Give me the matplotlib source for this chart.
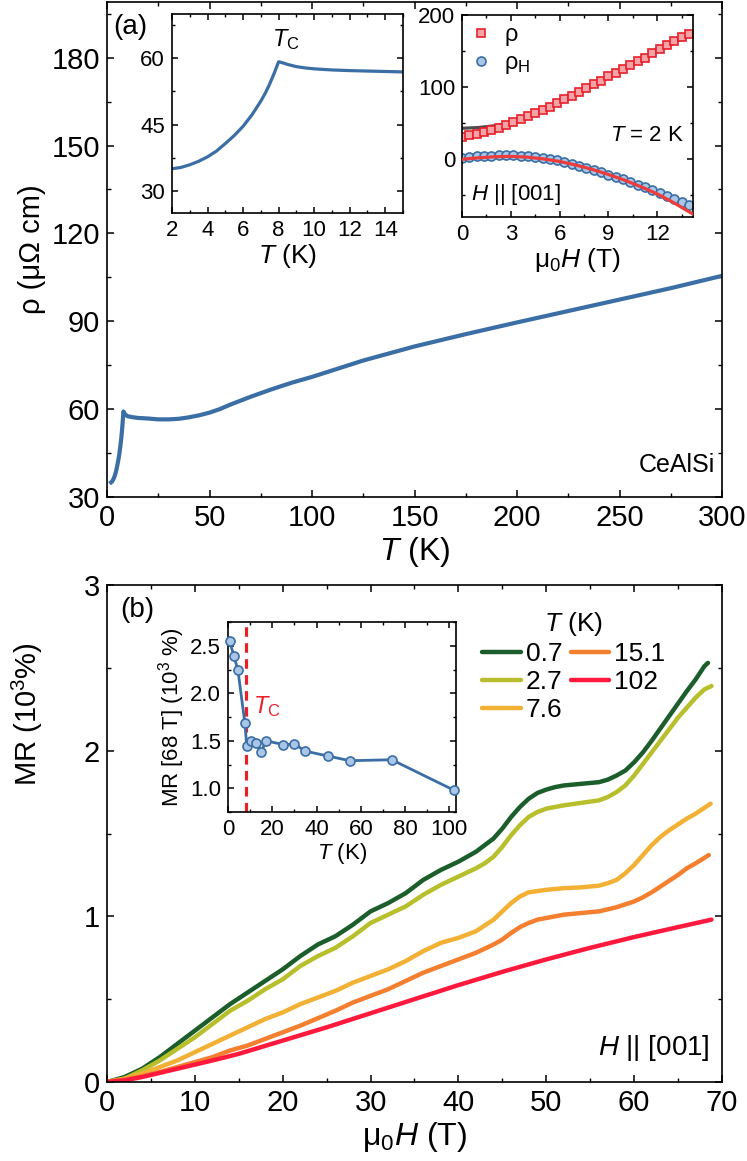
import numpy as np
import matplotlib
matplotlib.use('Agg')
import matplotlib.pyplot as plt
from matplotlib.ticker import MultipleLocator, FormatStrFormatter

plt.rcParams['font.family'] = ['Liberation Sans', 'DejaVu Sans']
plt.rcParams['mathtext.fontset'] = 'custom'
plt.rcParams['mathtext.rm'] = 'Liberation Sans'
plt.rcParams['mathtext.it'] = 'Liberation Sans:italic'
plt.rcParams['mathtext.bf'] = 'Liberation Sans:bold'
plt.rcParams['xtick.direction'] = 'in'
plt.rcParams['ytick.direction'] = 'in'
plt.rcParams['xtick.top'] = True
plt.rcParams['ytick.right'] = True
plt.rcParams['axes.linewidth'] = 1.2

# ---- panel (a): rho(T) ----
T_main = [2, 2.5, 3, 3.5, 4, 4.5, 5, 5.5, 6, 6.5, 7, 7.5, 7.75, 8, 8.5, 9, 10, 12, 15,
          20, 25, 30, 35, 40, 45, 50, 55, 60, 70, 80, 90, 100, 125, 150, 175, 200, 225,
          250, 275, 300]
rho_main = [35.0, 35.3, 35.9, 36.7, 37.7, 39.0, 40.7, 42.5, 44.6, 47.2, 50.3, 54.2, 56.6,
            59.2, 58.6, 58.1, 57.6, 57.3, 57.0, 56.8, 56.5, 56.5, 56.7, 57.2, 57.9, 58.8,
            60.0, 61.5, 64.2, 66.7, 69.0, 71.0, 76.6, 81.4, 85.6, 89.6, 93.5, 97.4,
            101.3, 105.5]

# inset: low-T zoom
T_low = [2, 2.5, 3, 3.5, 4, 4.5, 5, 5.5, 6, 6.5, 7, 7.25, 7.5, 7.75, 8, 8.2, 8.5, 9,
         9.5, 10, 11, 12, 13, 14, 15]
rho_low = [35.0, 35.3, 35.9, 36.7, 37.7, 39.0, 40.7, 42.5, 44.6, 47.2, 50.3, 52.1, 54.2,
           56.6, 59.2, 59.0, 58.6, 58.1, 57.8, 57.6, 57.35, 57.2, 57.1, 57.0, 56.9]

# inset: field dependence at 2 K
H_pts = [0.0, 0.45, 0.9, 1.35, 1.8, 2.25, 2.7, 3.15, 3.6, 4.05, 4.5, 4.95, 5.4, 5.85,
         6.3, 6.75, 7.2, 7.65, 8.1, 8.55, 9.0, 9.45, 9.9, 10.35, 10.8, 11.25, 11.7,
         12.15, 12.6, 13.05, 13.5, 13.95]
rho_pts = [31, 33, 35, 37.5, 40, 44, 48, 52, 56, 60, 64, 68.5, 73, 78, 83, 88, 93.5,
           98.5, 104, 109, 115, 120, 125, 130, 136, 141, 147, 153, 158, 164, 169, 174]
rhoH_pts = [2, 3, 4, 4.5, 5, 5.5, 5.5, 5.5, 5, 4.5, 3.5, 2, 0.5, -1.5, -4, -6.5, -9,
            -12, -15, -18, -21.5, -25, -28, -31, -35, -39, -43, -47, -51, -55, -59, -63]
H_fit = [0, 1, 2, 3, 4, 5, 6, 7, 8, 9, 10, 11, 12, 13, 14.2]
rho_fit = [43, 44, 46.5, 50.5, 58.5, 67.5, 78, 89, 101, 113, 125, 137, 149, 161, 175]
rhoH_fit = [0, 2, 3.5, 4, 3, 0.5, -3, -8, -14, -21, -29, -38, -48, -60, -76]

# ---- panel (b): MR(H) ----
H_07 = [0, 2, 4, 6, 8, 10, 12, 14, 16, 18, 20, 22, 24, 26, 28, 30, 32, 34, 36, 38, 40,
        42, 44, 45, 46, 47, 48, 49, 50, 51, 52, 54, 56, 57, 58, 59, 60, 61, 62, 63, 64,
        65, 66, 67, 68, 68.4]
MR_07 = [0, 0.03, 0.08, 0.15, 0.23, 0.31, 0.39, 0.47, 0.54, 0.61, 0.68, 0.76, 0.83,
         0.88, 0.95, 1.03, 1.08, 1.14, 1.22, 1.28, 1.33, 1.39, 1.47, 1.53, 1.60, 1.66,
         1.71, 1.745, 1.765, 1.78, 1.79, 1.80, 1.81, 1.825, 1.85, 1.88, 1.93, 1.99, 2.06,
         2.135, 2.21, 2.285, 2.36, 2.43, 2.51, 2.53]
H_27 = [0, 2, 4, 6, 8, 10, 12, 14, 16, 18, 20, 22, 24, 26, 28, 30, 32, 34, 36, 38, 40,
        42, 43, 44, 45, 46, 47, 48, 49, 50, 52, 54, 56, 57, 58, 59, 60, 61, 62, 63, 64,
        65, 66, 67, 68, 68.8]
MR_27 = [0, 0.02, 0.07, 0.13, 0.20, 0.27, 0.35, 0.43, 0.49, 0.56, 0.62, 0.70, 0.76,
         0.81, 0.88, 0.96, 1.01, 1.06, 1.13, 1.19, 1.24, 1.29, 1.32, 1.36, 1.42, 1.49,
         1.55, 1.60, 1.63, 1.65, 1.67, 1.685, 1.70, 1.72, 1.75, 1.79, 1.85, 1.92, 1.99,
         2.06, 2.13, 2.20, 2.26, 2.32, 2.37, 2.39]
H_76 = [0, 2, 4, 6, 8, 10, 12, 14, 16, 18, 20, 22, 24, 26, 28, 30, 32, 34, 36, 38, 40,
        42, 44, 45, 46, 47, 48, 50, 52, 54, 56, 57, 58, 59, 60, 61, 62, 63, 64, 65, 66,
        67, 68, 68.7]
MR_76 = [0, 0.02, 0.05, 0.09, 0.13, 0.18, 0.23, 0.28, 0.33, 0.38, 0.42, 0.47, 0.51,
         0.55, 0.60, 0.64, 0.68, 0.73, 0.79, 0.84, 0.87, 0.91, 0.98, 1.03, 1.08, 1.12,
         1.145, 1.16, 1.17, 1.175, 1.185, 1.20, 1.22, 1.26, 1.31, 1.37, 1.43, 1.48, 1.52,
         1.555, 1.59, 1.62, 1.655, 1.68]
H_151 = [0, 2, 4, 6, 8, 10, 12, 14, 16, 18, 20, 22, 24, 26, 28, 30, 32, 34, 36, 38, 40,
         42, 44, 45, 46, 47, 48, 49, 50, 52, 54, 56, 58, 60, 61, 62, 63, 64, 65, 66, 67,
         68.5]
MR_151 = [0, 0.015, 0.035, 0.06, 0.09, 0.12, 0.15, 0.19, 0.22, 0.26, 0.30, 0.34, 0.385,
          0.43, 0.48, 0.52, 0.56, 0.61, 0.66, 0.70, 0.74, 0.78, 0.83, 0.86, 0.90, 0.935,
          0.96, 0.98, 0.99, 1.01, 1.02, 1.03, 1.055, 1.09, 1.115, 1.145, 1.18, 1.215,
          1.25, 1.29, 1.32, 1.37]
H_102 = [0, 2, 4, 6, 8, 10, 12, 15, 20, 25, 30, 35, 40, 45, 50, 55, 60, 65, 68.8]
MR_102 = [0, 0.01, 0.03, 0.055, 0.08, 0.105, 0.13, 0.17, 0.25, 0.33, 0.415, 0.50, 0.585,
          0.665, 0.74, 0.81, 0.875, 0.935, 0.98]

curves = [(H_07, MR_07, '0.7', '#1b5e2b'),
          (H_27, MR_27, '2.7', '#b8bf2d'),
          (H_76, MR_76, '7.6', '#f2b134'),
          (H_151, MR_151, '15.1', '#f47f2f'),
          (H_102, MR_102, '102', '#ff1a3d')]

# inset: MR at 68 T vs T
T_mr = [0.7, 2.7, 4.5, 7.6, 8.5, 10.5, 12.5, 15.1, 17, 25, 30, 35, 45, 55, 74, 102]
MR_68 = [2.55, 2.39, 2.24, 1.69, 1.44, 1.50, 1.48, 1.38, 1.50, 1.46, 1.465, 1.39, 1.34,
         1.29, 1.30, 0.98]

blue = '#3a6ea5'
W, Hgt = 747, 1161
fig = plt.figure(figsize=(W / 100, Hgt / 100), dpi=100)

def box(x0, y0, x1, y1):
    return [x0 / W, 1 - y1 / Hgt, (x1 - x0) / W, (y1 - y0) / Hgt]

def style(ax, size, major=5, minor=3):
    ax.tick_params(which='major', length=major, width=1.1, labelsize=size, pad=5)
    ax.tick_params(which='minor', length=minor, width=1.0)

# main (a)
ax1 = fig.add_axes(box(107, 2, 722, 497))
ax1.plot(T_main, rho_main, color=blue, lw=3)
ax1.set_xlim(0, 300)
ax1.set_ylim(30, 199)
ax1.xaxis.set_major_locator(MultipleLocator(50))
ax1.xaxis.set_minor_locator(MultipleLocator(25))
ax1.yaxis.set_major_locator(MultipleLocator(30))
ax1.yaxis.set_minor_locator(MultipleLocator(15))
style(ax1, 21)
ax1.set_xlabel(r'$\mathit{T}$ (K)', fontsize=23, labelpad=2)
ax1.set_ylabel('ρ (μΩ cm)', fontsize=21, labelpad=4)
ax1.text(0.989, 0.065, 'CeAlSi', transform=ax1.transAxes, ha='right', va='center', fontsize=18)
ax1.text(0.01, 0.975, '(a)', transform=ax1.transAxes, ha='left', va='top', fontsize=20)

# inset rho(T) low T
ax2 = fig.add_axes(box(172, 14, 403, 213))
ax2.plot(T_low, rho_low, color=blue, lw=2.3)
ax2.set_xlim(2, 15)
ax2.set_ylim(25, 70)
ax2.xaxis.set_major_locator(MultipleLocator(2))
ax2.xaxis.set_minor_locator(MultipleLocator(1))
ax2.yaxis.set_major_locator(MultipleLocator(15))
ax2.yaxis.set_minor_locator(MultipleLocator(7.5))
style(ax2, 16, 4, 2.5)
ax2.set_xlabel(r'$\mathit{T}$ (K)', fontsize=19, labelpad=1)
ax2.text(8.4, 64.3, r'$\mathit{T}_\mathrm{C}$', ha='center', va='center', fontsize=17)

# inset rho(H)
ax3 = fig.add_axes(box(462, 15, 693, 217))
ax3.plot(H_fit, rho_fit, color='#4d4d4d', lw=2.3, zorder=1)
ax3.plot(H_pts, rho_pts, 's', ms=6, mec='#e8202a', mfc='#f5a3a6', mew=1.2,
         label=r'$\mathrm{\rho}$', zorder=2)
ax3.plot(H_pts, rhoH_pts, 'o', ms=6.5, mec='#3a6ea5', mfc='#a9c6e6', mew=1.2,
         label=r'$\mathrm{\rho_H}$', zorder=2)
ax3.plot(H_fit, rhoH_fit, color='#ee3b3b', lw=2.3, zorder=3)
ax3.set_xlim(0, 14.2)
ax3.set_ylim(-80, 200)
ax3.xaxis.set_major_locator(MultipleLocator(3))
ax3.xaxis.set_minor_locator(MultipleLocator(1.5))
ax3.yaxis.set_major_locator(MultipleLocator(100))
ax3.yaxis.set_minor_locator(MultipleLocator(50))
style(ax3, 16, 4, 2.5)
ax3.set_xlabel(r'$\mathrm{\mu_0}\mathit{H}$ (T)', fontsize=19, labelpad=1)
ax3.legend(loc='upper left', frameon=False, fontsize=17, handlelength=0.8,
           handletextpad=0.6, labelspacing=0.15, borderaxespad=0.2, borderpad=0.2)
ax3.text(0.96, 0.405, r'$\mathit{T}$ = 2 K', transform=ax3.transAxes, ha='right',
         va='center', fontsize=16)
ax3.text(0.04, 0.11, r'$\mathit{H}$ || [001]', transform=ax3.transAxes, ha='left',
         va='center', fontsize=16)

# main (b)
ax4 = fig.add_axes(box(107, 585, 722, 1082))
for hh, mm, lab, col in curves:
    ax4.plot(hh, mm, color=col, lw=3.2, label=lab, solid_capstyle='round',
             solid_joinstyle='round')
ax4.set_xlim(0, 70)
ax4.set_ylim(0, 3)
ax4.xaxis.set_major_locator(MultipleLocator(10))
ax4.xaxis.set_minor_locator(MultipleLocator(5))
ax4.yaxis.set_major_locator(MultipleLocator(1))
ax4.yaxis.set_minor_locator(MultipleLocator(0.5))
style(ax4, 21)
ax4.set_xlabel(r'$\mathrm{\mu_0}\mathit{H}$ (T)', fontsize=23, labelpad=2)
ax4.set_ylabel(r'MR (10$^3$%)', fontsize=21)
ax4.yaxis.set_label_coords(-0.1, 0.74)
leg = ax4.legend(ncol=2, loc='upper right', bbox_to_anchor=(0.925, 0.97), frameon=False,
                 fontsize=19, title=r'$\mathit{T}$ (K)', title_fontsize=19,
                 handlelength=1.45, handletextpad=0.2, columnspacing=0.3,
                 labelspacing=0.15, borderaxespad=0)
ax4.text(0.98, 0.068, r'$\mathit{H}$ || [001]', transform=ax4.transAxes, ha='right',
         va='center', fontsize=20)
ax4.text(0.022, 0.975, '(b)', transform=ax4.transAxes, ha='left', va='top', fontsize=20)

# inset MR(68 T) vs T
ax5 = fig.add_axes(box(228, 622, 456, 812))
ax5.plot(T_mr, MR_68, '-o', color=blue, lw=2, ms=6.5, mfc='#a9c6e6', mec=blue, mew=1.2,
         clip_on=False, zorder=3)
ax5.axvline(8, color='#e8202a', lw=2.3, ls=(0, (3, 2)), zorder=2)
ax5.set_xlim(0, 103)
ax5.set_ylim(0.75, 2.75)
ax5.xaxis.set_major_locator(MultipleLocator(20))
ax5.xaxis.set_minor_locator(MultipleLocator(10))
ax5.yaxis.set_major_locator(MultipleLocator(0.5))
ax5.yaxis.set_minor_locator(MultipleLocator(0.25))
ax5.yaxis.set_major_formatter(FormatStrFormatter('%.1f'))
style(ax5, 16, 4, 2.5)
ax5.set_xlabel(r'$\mathit{T}$ (K)', fontsize=16, labelpad=1)
ax5.set_ylabel(r'MR [68 T] (10$^3$ %)', fontsize=16, labelpad=2)
ax5.text(17.5, 1.86, r'$\mathit{T}_\mathrm{C}$', color='#e8202a', ha='center',
         va='center', fontsize=17)

fig.savefig('out.png', dpi=100)
